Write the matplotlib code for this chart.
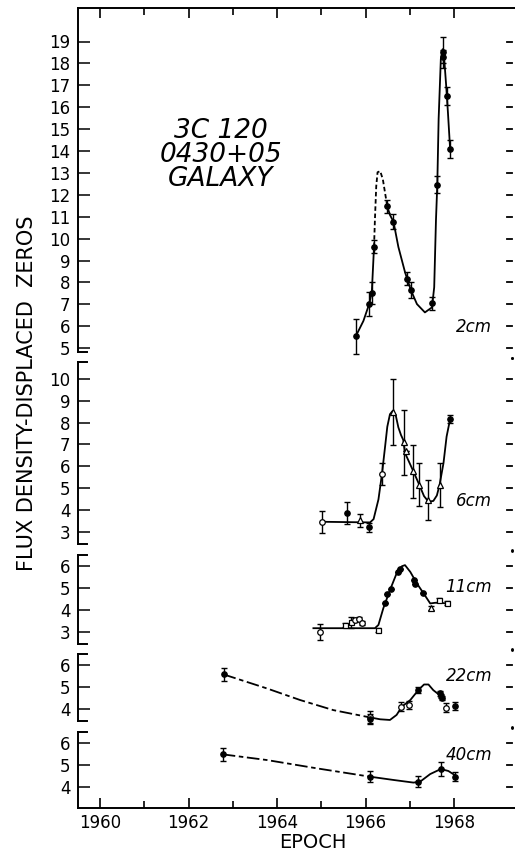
import matplotlib.pyplot as plt
from matplotlib.transforms import blended_transform_factory

plt.rcParams['font.family'] = ['DejaVu Sans']

# ---- 2 cm ----
epoch_2 = [1965.78, 1966.08, 1966.14, 1966.19, 1966.49, 1966.63, 1966.93, 1967.02,
           1967.49, 1967.62, 1967.74, 1967.75, 1967.83, 1967.91]
flux_2 = [5.55, 7.01, 7.50, 9.62, 11.47, 10.77, 8.17, 7.66, 7.04, 12.47, 18.5, 18.3, 16.5, 14.08]
err_2 = [0.8, 0.55, 0.5, 0.3, 0.3, 0.35, 0.3, 0.35, 0.3, 0.4, 0.7, 0.3, 0.4, 0.4]
mark_2 = 'oooooooooooooo'
curve_2a_x = [1965.78, 1965.95, 1966.08, 1966.14, 1966.19]
curve_2a_y = [5.55, 6.24, 7.01, 7.55, 9.62]
curve_2b_x = [1966.19, 1966.21, 1966.24, 1966.27, 1966.33, 1966.39, 1966.44, 1966.49]
curve_2b_y = [9.62, 10.85, 12.39, 13.03, 13.08, 12.7, 12.08, 11.47]
curve_2c_x = [1966.49, 1966.55, 1966.63, 1966.74, 1966.89, 1967.02, 1967.16, 1967.34,
              1967.50, 1967.55, 1967.59, 1967.62, 1967.65, 1967.70, 1967.74, 1967.77,
              1967.82, 1967.86, 1967.91]
curve_2c_y = [11.47, 11.08, 10.77, 9.62, 8.47, 7.66, 7.01, 6.63, 6.86, 7.78, 10.85, 12.47,
              15.46, 18.2, 18.65, 18.38, 17.0, 15.77, 14.08]

# ---- 6 cm ----
epoch_6 = [1965.01, 1965.59, 1965.88, 1966.08, 1966.36, 1966.61, 1966.87, 1966.92,
           1967.08, 1967.21, 1967.42, 1967.67, 1967.91]
flux_6 = [3.47, 3.85, 3.54, 3.21, 5.66, 8.49, 7.09, 6.68, 5.77, 5.17, 4.46, 5.14, 8.16]
err_6 = [0.5, 0.5, 0.3, 0.2, 0.5, 1.5, 1.5, 0.0, 1.2, 1.0, 0.9, 1.0, 0.2]
mark_6 = 'co^oc^^^^^^^o'
curve_6_x = [1965.01, 1966.10, 1966.18, 1966.29, 1966.37, 1966.44, 1966.49, 1966.55,
             1966.61, 1966.68, 1966.74, 1966.80, 1966.85, 1966.89, 1967.08, 1967.21,
             1967.32, 1967.42, 1967.53, 1967.61, 1967.67, 1967.76, 1967.83, 1967.91]
curve_6_y = [3.47, 3.44, 3.59, 4.49, 5.66, 6.9, 7.81, 8.38, 8.53, 8.34, 7.78, 7.43, 7.21,
             6.61, 5.77, 5.17, 4.64, 4.39, 4.42, 4.67, 5.14, 6.15, 7.36, 8.16]

# ---- 11 cm ----
epoch_11 = [1964.98, 1965.54, 1965.66, 1965.76, 1965.84, 1965.91, 1966.27, 1966.43,
            1966.49, 1966.57, 1966.74, 1966.78, 1967.10, 1967.12, 1967.29, 1967.47,
            1967.65, 1967.83]
flux_11 = [3.0, 3.32, 3.45, 3.55, 3.58, 3.40, 3.09, 4.30, 4.73, 4.94, 5.74, 5.89, 5.36,
           5.20, 4.79, 4.08, 4.45, 4.33]
err_11 = [0.35, 0.1, 0.25, 0.1, 0.1, 0.1, 0.1, 0, 0, 0, 0, 0, 0, 0, 0, 0.1, 0.1, 0.1]
mark_11 = 'csscccsoooooooo^ss'
curve_11_x = [1964.82, 1966.21, 1966.29, 1966.40, 1966.55, 1966.70, 1966.82, 1966.89,
              1967.01, 1967.16, 1967.31, 1967.46, 1967.57, 1967.68, 1967.83]
curve_11_y = [3.17, 3.17, 3.32, 4.08, 4.91, 5.67, 6.0, 6.05, 5.74, 5.21, 4.76, 4.30,
              4.33, 4.33, 4.30]

# ---- 22 cm ----
epoch_22 = [1962.79, 1966.09, 1966.11, 1966.79, 1966.97, 1967.19, 1967.67, 1967.70,
            1967.72, 1967.81, 1968.02]
flux_22 = [5.58, 3.62, 3.55, 4.10, 4.18, 4.86, 4.71, 4.60, 4.49, 4.06, 4.14]
err_22 = [0.3, 0.3, 0.2, 0.2, 0.2, 0.15, 0.1, 0.1, 0.1, 0.2, 0.2]
mark_22 = 'ococcooooco'
curve_22a_x = [1962.79, 1963.77, 1964.52, 1965.27, 1966.09]
curve_22a_y = [5.58, 4.94, 4.41, 3.95, 3.62]
curve_22b_x = [1966.09, 1966.33, 1966.55, 1966.70, 1966.82, 1967.01, 1967.19, 1967.32,
               1967.42, 1967.53, 1967.67, 1967.72]
curve_22b_y = [3.62, 3.53, 3.50, 3.73, 4.11, 4.41, 4.86, 5.12, 5.12, 4.86, 4.64, 4.50]

# ---- 40 cm ----
epoch_40 = [1962.77, 1966.10, 1967.19, 1967.70, 1968.01]
flux_40 = [5.49, 4.47, 4.24, 4.82, 4.47]
err_40 = [0.3, 0.25, 0.25, 0.3, 0.2]
mark_40 = 'ooooo'
curve_40a_x = [1962.77, 1963.77, 1964.90, 1966.10]
curve_40a_y = [5.49, 5.23, 4.85, 4.47]
curve_40b_x = [1966.10, 1966.63, 1967.08, 1967.23, 1967.46, 1967.70, 1967.87, 1968.01]
curve_40b_y = [4.47, 4.32, 4.20, 4.24, 4.59, 4.82, 4.73, 4.55]

years = [1960, 1962, 1964, 1966, 1968]

# layout: vertical offset of each band (displaced zeros), spine extent, label height
bands = {
    '2cm': dict(off=16.0, ticks=range(5, 20), span=(4.82, None), lab=5.96),
    '6cm': dict(off=9.6, ticks=range(3, 11), span=(2.45, 10.77), lab=4.42),
    '11cm': dict(off=5.04, ticks=range(3, 7), span=(2.45, 6.5), lab=5.05),
    '22cm': dict(off=0.52, ticks=range(4, 7), span=(3.45, 6.5), lab=5.51),
    '40cm': dict(off=-3.04, ticks=range(4, 7), span=(None, 6.5), lab=5.46),
}
YTOP = 800 / 21.9

fig = plt.figure(figsize=(5.15, 8.56), dpi=100)
ax = fig.add_axes([78 / 515, 48 / 856, 437 / 515, 800 / 856])
ax.set_xlim(1959.5, 1969.376)
ax.set_ylim(0, YTOP)

markers = {'o': dict(marker='o', ms=3.8, mfc='k', mec='k'),
           'c': dict(marker='o', ms=4.0, mfc='white', mec='k', mew=0.9),
           '^': dict(marker='^', ms=4.8, mfc='white', mec='k', mew=0.9),
           's': dict(marker='s', ms=3.6, mfc='white', mec='k', mew=0.9)}


def draw_band(name, xs, ys, es, ms, segments):
    off = bands[name]['off']
    for sx, sy, ls in segments:
        ax.plot(sx, [v + off for v in sy], color='k', lw=1.3, ls=ls, zorder=2)
    yy = [v + off for v in ys]
    ax.errorbar(xs, yy, yerr=es, fmt='none', ecolor='k', elinewidth=1.0,
                capsize=2.3, capthick=1.0, zorder=3)
    for x, y, m in zip(xs, yy, ms):
        ax.plot([x], [y], ls='none', zorder=4, **markers[m])


long_dash = (0, (7, 2, 2.5, 2))
draw_band('2cm', epoch_2, flux_2, err_2, mark_2,
          [(curve_2a_x, curve_2a_y, '-'), (curve_2b_x, curve_2b_y, (0, (2.5, 1.5))),
           (curve_2c_x, curve_2c_y, '-')])
draw_band('6cm', epoch_6, flux_6, err_6, mark_6, [(curve_6_x, curve_6_y, '-')])
draw_band('11cm', epoch_11, flux_11, err_11, mark_11, [(curve_11_x, curve_11_y, '-')])
draw_band('22cm', epoch_22, flux_22, err_22, mark_22,
          [(curve_22a_x, curve_22a_y, long_dash), (curve_22b_x, curve_22b_y, '-')])
draw_band('40cm', epoch_40, flux_40, err_40, mark_40,
          [(curve_40a_x, curve_40a_y, long_dash), (curve_40b_x, curve_40b_y, '-')])

# y ticks for every band, broken left axis with bracket ends
blend = blended_transform_factory(ax.transAxes, ax.transData)
ypos, ylab = [], []
for name, b in bands.items():
    for t in b['ticks']:
        ypos.append(t + b['off'])
        ylab.append(str(t))
        ax.plot([0.982, 0.994], [t + b['off']] * 2, color='k', lw=1.3,
                transform=blend, clip_on=False)
    lo, hi = b['span']
    y0 = 0 if lo is None else lo + b['off']
    y1 = YTOP if hi is None else hi + b['off']
    ax.plot([0, 0], [y0, y1], color='k', lw=1.4, transform=blend, clip_on=False)
    if lo is not None:
        ax.plot([0, 0.02], [y0, y0], color='k', lw=1.4, transform=blend, clip_on=False)
        ax.plot([0.992], [y0 - 0.25], 'k.', ms=2, transform=blend, clip_on=False)
    if hi is not None:
        ax.plot([0, 0.02], [y1, y1], color='k', lw=1.4, transform=blend, clip_on=False)
        ax.plot([0.992], [y1 + 0.2], 'k.', ms=2, transform=blend, clip_on=False)
    ax.text(1968.86, b['lab'] + b['off'], name, ha='right', va='center',
            style='italic', fontsize=12)

ax.set_yticks(ypos, ylab)
ax.tick_params(axis='y', direction='in', length=8.5, width=1.1, pad=5.5,
               labelsize=12, left=True, right=False)

ax.set_xticks(years, [str(y) for y in years])
ax.set_xticks([1961, 1963, 1965, 1967], minor=True)
ax.tick_params(axis='x', which='major', direction='in', length=7.5, width=1.2,
               top=True, bottom=True, labelsize=12, pad=4)
ax.tick_params(axis='x', which='minor', direction='in', length=5, width=1.2,
               top=True, bottom=True)

for s in ['left', 'right']:
    ax.spines[s].set_visible(False)
for s in ['top', 'bottom']:
    ax.spines[s].set_linewidth(1.4)

fig.text(27 / 515, 1 - 393 / 856, 'FLUX DENSITY-DISPLACED  ZEROS', rotation=90,
         ha='center', va='center', fontsize=15)
fig.text(313 / 515, 1 - 843 / 856, 'EPOCH', ha='center', va='center', fontsize=14)
fig.text(221 / 515, 1 - 155 / 856, '3C 120\n0430+05\nGALAXY', ha='center',
         va='center', style='italic', fontsize=19, linespacing=0.88)

fig.savefig('out.png', dpi=100)
